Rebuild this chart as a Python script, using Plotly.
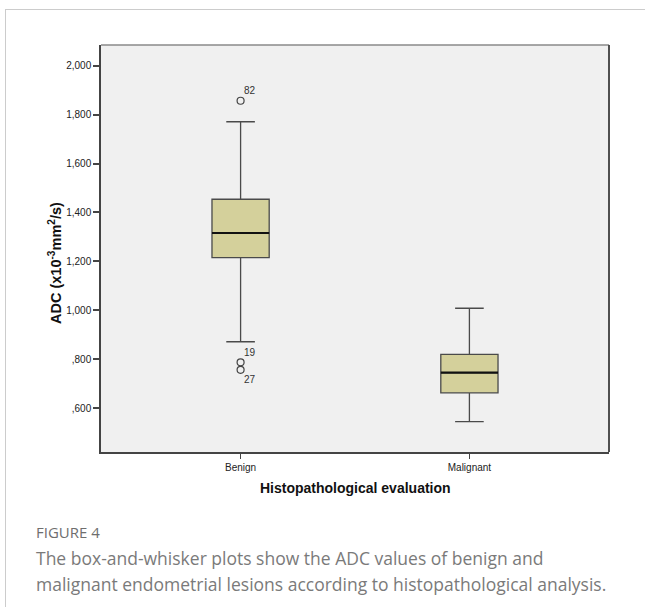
import plotly.graph_objects as go

# ---- data ----
categories = ["Benign", "Malignant"]
q1_vals = [1215, 662]
median_vals = [1316, 745]
q3_vals = [1454, 819]
lower_whisker = [871, 544]
upper_whisker = [1771, 1008]

outlier_cat = ["Benign", "Benign", "Benign"]
outlier_vals = [1857, 787, 756]
outlier_labels = ["82", "19", "27"]
label_shift = [(9, 10), (9, 10), (9, -10)]

tick_vals = [600, 800, 1000, 1200, 1400, 1600, 1800, 2000]
tick_text = [",600", ",800", "1,000", "1,200", "1,400", "1,600", "1,800", "2,000"]

W, H = 645, 607
L, R, T, B = 101, 609, 45, 452


def px(x):
    return (x - L) / (R - L)


def py(y):
    return (B - y) / (B - T)


fig = go.Figure()
fig.add_trace(go.Box(
    x=categories,
    q1=q1_vals, median=median_vals, q3=q3_vals,
    lowerfence=lower_whisker, upperfence=upper_whisker,
    fillcolor="#D4D09B",
    line=dict(color="#4a4a4a", width=1.3),
    width=0.25,
    whiskerwidth=0.5,
    boxpoints=False,
    showlegend=False,
    hoverinfo="skip",
))
fig.add_trace(go.Scatter(
    x=outlier_cat, y=outlier_vals, mode="markers",
    marker=dict(symbol="circle-open", size=7, color="#444444", line=dict(width=1.2)),
    showlegend=False, hoverinfo="skip",
))

annotations = []
for c, v, lab, (dx, dy) in zip(outlier_cat, outlier_vals, outlier_labels, label_shift):
    annotations.append(dict(x=c, y=v, xref="x", yref="y", text=lab, showarrow=False,
                            xshift=dx, yshift=dy,
                            font=dict(family="Liberation Sans, Arial", size=10, color="#333333")))

# thick black median lines
shapes = []
for i, m in enumerate(median_vals):
    shapes.append(dict(type="line", xref="x", yref="y", x0=i - 0.125, x1=i + 0.125,
                       y0=m, y1=m, line=dict(color="#111111", width=2.2), layer="above"))

# plot frame: top lighter, right darker
shapes.append(dict(type="line", xref="paper", yref="paper", x0=0, x1=1, y0=1, y1=1,
                   line=dict(color="#8a8a8a", width=1.5)))
shapes.append(dict(type="line", xref="paper", yref="paper", x0=1, x1=1, y0=0, y1=1,
                   line=dict(color="#505050", width=2)))
# outer figure frame
shapes.append(dict(type="line", xref="paper", yref="paper", x0=px(5), x1=px(660), y0=py(9.5), y1=py(9.5),
                   line=dict(color="#cccccc", width=1)))
shapes.append(dict(type="line", xref="paper", yref="paper", x0=px(5.5), x1=px(5.5), y0=py(9.5), y1=py(620),
                   line=dict(color="#cccccc", width=1)))

# axis titles and caption
annotations.append(dict(xref="paper", yref="paper", x=0.5, y=py(488), text="<b>Histopathological evaluation</b>",
                        showarrow=False, xanchor="center", yanchor="middle",
                        font=dict(family="Liberation Sans, Arial", size=14, color="#111111")))
annotations.append(dict(xref="paper", yref="paper", x=px(55), y=py(263),
                        text="<b>ADC (x10<sup>-3</sup>mm<sup>2</sup>/s)</b>",
                        showarrow=False, textangle=-90, xanchor="center", yanchor="middle",
                        font=dict(family="Liberation Sans, Arial", size=14.5, color="#111111")))
annotations.append(dict(xref="paper", yref="paper", x=px(34), y=py(532), text="FIGURE 4",
                        showarrow=False, xanchor="left", yanchor="middle",
                        font=dict(family="Open Sans", size=15, color="#6e6e6e")))
annotations.append(dict(xref="paper", yref="paper", x=px(34), y=py(558),
                        text="The box-and-whisker plots show the ADC values of benign and",
                        showarrow=False, xanchor="left", yanchor="middle",
                        font=dict(family="Open Sans", size=17.5, color="#7a7a7a")))
annotations.append(dict(xref="paper", yref="paper", x=px(34), y=py(584),
                        text="malignant endometrial lesions according to histopathological analysis.",
                        showarrow=False, xanchor="left", yanchor="middle",
                        font=dict(family="Open Sans", size=17.5, color="#7a7a7a")))

fig.update_layout(
    width=W, height=H,
    margin=dict(l=L, r=W - R, t=T, b=H - B),
    paper_bgcolor="white", plot_bgcolor="#F0F0F0",
    shapes=shapes, annotations=annotations,
    showlegend=False,
)
fig.update_xaxes(
    type="category", range=[-0.61, 1.61],
    showgrid=False, zeroline=False,
    showline=True, linecolor="#444444", linewidth=1.5,
    ticks="outside", ticklen=5, tickcolor="#444444", tickwidth=1,
    tickfont=dict(family="Liberation Sans, Arial", size=10, color="#222222"),
)
fig.update_yaxes(
    range=[420, 2085],
    tickvals=tick_vals, ticktext=tick_text,
    showgrid=False, zeroline=False,
    showline=True, linecolor="#444444", linewidth=1.5,
    ticks="outside", ticklen=6, tickcolor="#444444", tickwidth=1.5,
    tickfont=dict(family="Liberation Sans, Arial", size=10, color="#222222"),
)

fig.write_html("out.html")
